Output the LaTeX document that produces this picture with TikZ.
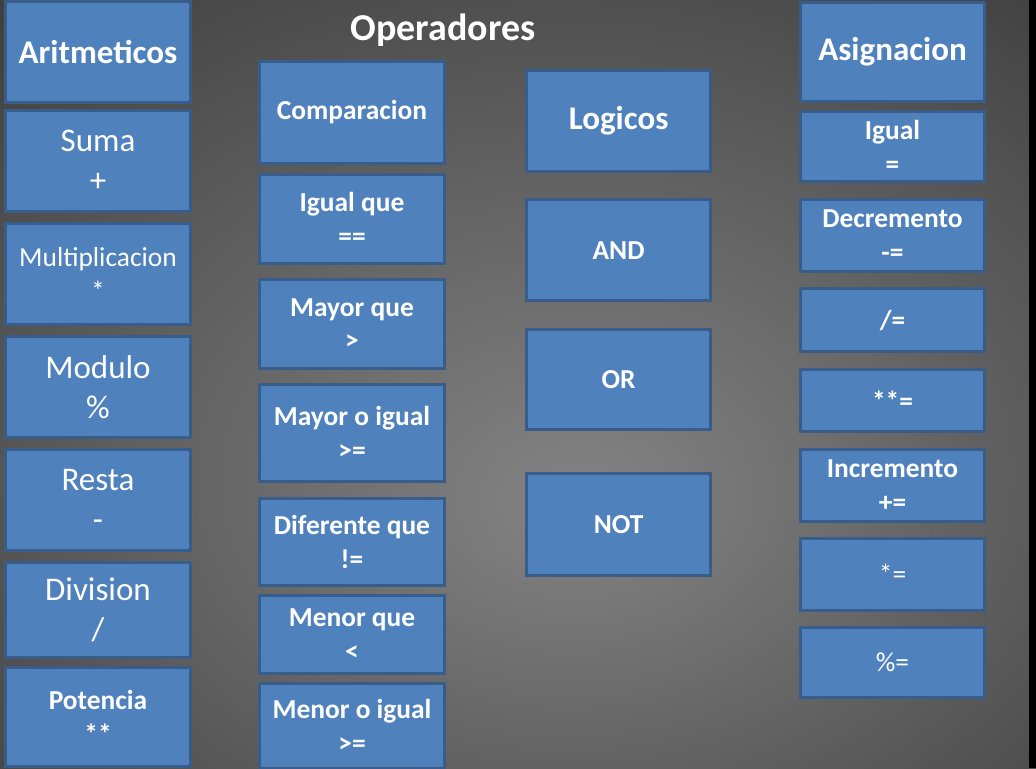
\documentclass[tikz,border=0pt]{standalone}
\usepackage{fontspec}
\setmainfont{Carlito}
\usepackage{xcolor}
\definecolor{boxfill}{RGB}{79,129,189}
\definecolor{boxline}{RGB}{56,93,138}
\definecolor{slidegray}{RGB}{132,132,132}
\pgfdeclareradialshading{slidebg}{\pgfpoint{3bp}{-8bp}}{color(0bp)=(slidegray); color(75bp)=(black)}

\begin{document}
\begin{tikzpicture}[
    x=0.025cm, y=-0.025cm,
    opbox/.style={rectangle, draw=boxline, fill=boxfill, line width=0.075cm, minimum width=4.6cm, text=white, align=center, inner sep=2pt},
    headbox/.style={opbox, font=\fontsize{23.5}{28.7}\selectfont\bfseries},
    bigbox/.style={opbox, font=\fontsize{23.5}{28.7}\selectfont},
    itembox/.style={opbox, font=\fontsize{19.5}{24}\selectfont\bfseries},
    plainbox/.style={opbox, font=\fontsize{19.5}{24}\selectfont},
]
\useasboundingbox (0,0) rectangle (1036,768);
\shade[shading=slidebg] (0,0) rectangle (1036,768);
\fill[black] (1029,0) rectangle (1036,768);

\node[font=\fontsize{27}{32}\selectfont\bfseries, text=white] (titulo) at (443,30) {Operadores};

% aritmeticos
\node[headbox, minimum height=2.5cm] (arit) at (98,52) {Aritmeticos};
\node[bigbox, minimum height=2.525cm] (suma) at (98,161) {Suma\\+};
\node[plainbox, minimum height=2.525cm] (mult) at (98,274) {Multiplicacion\\*};
\node[bigbox, minimum height=2.5cm] (modu) at (98,387) {Modulo\\\%};
\node[bigbox, minimum height=2.525cm] (resta) at (98,500) {Resta\\-};
\node[bigbox, minimum height=2.39cm] (divi) at (98,610) {Division\\/};
\node[itembox, minimum height=2.475cm] (pote) at (98,717) {Potencia\\**};

% comparacion
\node[itembox, minimum height=2.55cm] (comp) at (352,112.5) {Comparacion};
\node[itembox, minimum height=2.2cm] (igualq) at (352,219) {Igual que\\==};
\node[itembox, minimum height=2.2cm] (mayor) at (352,324) {Mayor que\\>};
\node[itembox, minimum height=2.4cm] (mayorig) at (352,433) {Mayor o igual\\>=};
\node[itembox, minimum height=2.175cm] (difer) at (352,541.7) {Diferente que\\!=};
\node[itembox, minimum height=1.95cm] (menor) at (352,634.5) {Menor que\\<};
\node[itembox, minimum height=2.125cm] (menorig) at (352,726) {Menor o igual\\>=};

% logicos
\node[headbox, minimum height=2.51cm] (logi) at (618.6,121) {Logicos};
\node[itembox, minimum height=2.525cm] (and) at (618.6,250.3) {AND};
\node[itembox, minimum height=2.51cm] (or) at (618.6,379.3) {OR};
\node[itembox, minimum height=2.535cm] (not) at (618.6,524.5) {NOT};

% asignacion
\node[headbox, minimum height=2.475cm] (asig) at (892.5,51.6) {Asignacion};
\node[itembox, minimum height=1.76cm] (igual) at (892.5,146.7) {Igual\\=};
\node[itembox, minimum height=1.785cm] (decr) at (892.5,235.5) {Decremento\\-=};
\node[itembox, minimum height=1.59cm] (diveq) at (892.5,320) {/=};
\node[itembox, minimum height=1.565cm] (poteq) at (892.5,400.5) {**=};
\node[itembox, minimum height=1.785cm] (incr) at (892.5,485.5) {Incremento\\+=};
\node[plainbox, minimum height=1.8cm] (muleq) at (892.5,574.2) {*=};
\node[plainbox, minimum height=1.765cm] (modeq) at (892.5,662.5) {\%=};
\end{tikzpicture}
\end{document}
